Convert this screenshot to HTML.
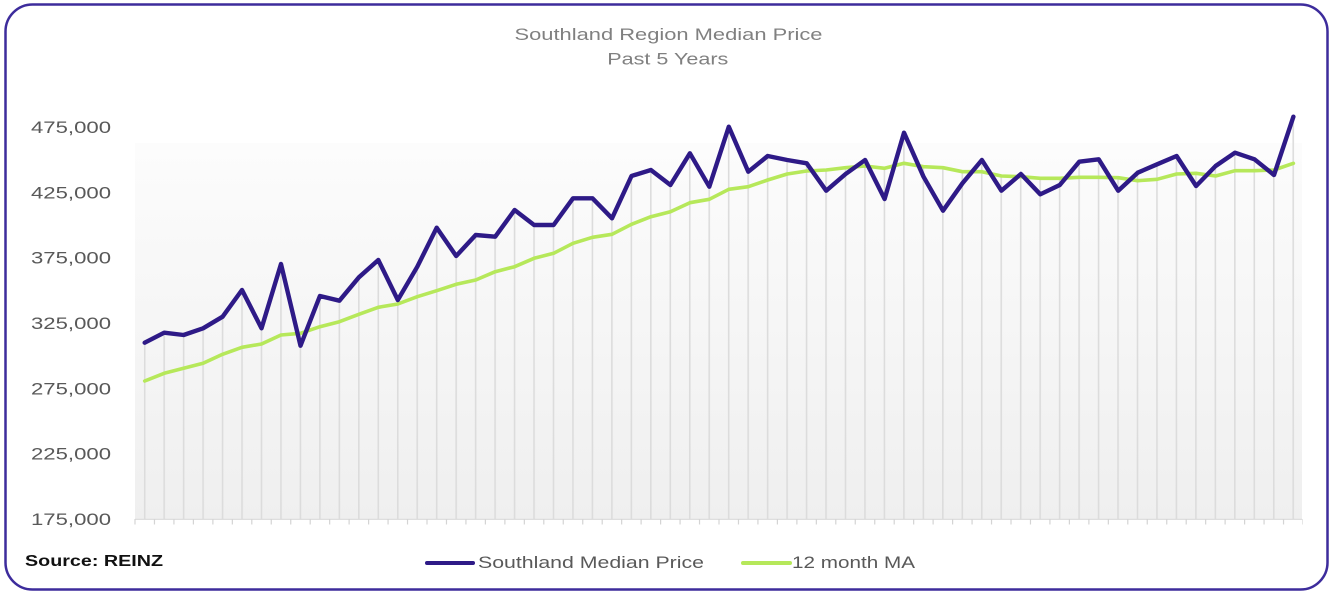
<!DOCTYPE html>
<html>
<head>
<meta charset="utf-8">
<style>
  html,body{margin:0;padding:0;background:#ffffff;}
  body{width:1336px;height:600px;overflow:hidden;}
  svg{display:block;}
  text{font-family:"Liberation Sans", Arial, sans-serif;}
</style>
</head>
<body>
<svg width="1336" height="600" viewBox="0 0 1336 600" xmlns="http://www.w3.org/2000/svg">
  <defs>
    <linearGradient id="bg" x1="0" y1="0" x2="0" y2="1">
      <stop offset="0" stop-color="#fcfcfc"/>
      <stop offset="1" stop-color="#efefef"/>
    </linearGradient>
    <pattern id="dl" x="143.9" y="0" width="19.4667" height="600" patternUnits="userSpaceOnUse">
      <rect x="0" y="0" width="1.6" height="600" fill="#dcdcdc"/>
    </pattern>
  </defs>
  <rect x="0" y="0" width="1336" height="600" fill="#ffffff"/>
  <rect x="5.5" y="4.5" width="1322" height="585" rx="27" ry="27" fill="#ffffff" stroke="#3d2c9c" stroke-width="2.5"/>

  <text x="668.5" y="40" font-size="17" fill="#808080" text-anchor="middle" textLength="308" lengthAdjust="spacingAndGlyphs">Southland Region Median Price</text>
  <text x="667.8" y="64.5" font-size="17" fill="#808080" text-anchor="middle" textLength="121" lengthAdjust="spacingAndGlyphs">Past 5 Years</text>

  <rect x="135" y="143" width="1167" height="376" fill="url(#bg)"/>

  <polygon fill="url(#dl)" points="143.8,342.7 144.7,342.7 164.2,332.7 183.6,335 203.1,328.3 222.6,316.7 242.0,290 261.5,328.3 281.0,264 300.5,333.3 319.9,296 339.4,300.7 358.9,277.3 378.3,260 397.8,300 417.3,266.7 436.7,227.7 456.2,256 475.7,235 495.2,236.7 514.6,210 534.1,225 553.6,225 573.0,198.3 592.5,198.3 612.0,218.3 631.5,176 650.9,170 670.4,185 689.9,153.3 709.3,186.7 728.8,126.7 748.3,171.7 767.7,156 787.2,160 806.7,163.3 826.2,170 845.6,167.7 865.1,160 884.6,168.3 904.0,132.7 923.5,166.7 943.0,167.7 962.4,171.7 981.9,160 1001.4,176 1020.9,174 1040.3,178.3 1059.8,178.3 1079.3,161.7 1098.7,159.3 1118.2,177.7 1137.7,172.7 1157.1,164.3 1176.6,156 1196.1,173.3 1215.6,166 1235.0,152.7 1254.5,159.3 1274.0,170 1293.4,116.7 1294.4,116.7 1294.4,519 143.8,519"/>

  <line x1="135" y1="519.3" x2="1302" y2="519.3" stroke="#d9d9d9" stroke-width="1.2"/>
  <line x1="134.4" y1="521.8" x2="1303" y2="521.8" stroke="#d4d4d4" stroke-width="5.5" stroke-dasharray="1.2 18.2667"/>

  <g font-size="17" fill="#595959" text-anchor="end">
    <text x="111" y="133" textLength="80" lengthAdjust="spacingAndGlyphs">475,000</text>
    <text x="111" y="198.3" textLength="80" lengthAdjust="spacingAndGlyphs">425,000</text>
    <text x="111" y="263.7" textLength="80" lengthAdjust="spacingAndGlyphs">375,000</text>
    <text x="111" y="329" textLength="80" lengthAdjust="spacingAndGlyphs">325,000</text>
    <text x="111" y="394.3" textLength="80" lengthAdjust="spacingAndGlyphs">275,000</text>
    <text x="111" y="459.7" textLength="80" lengthAdjust="spacingAndGlyphs">225,000</text>
    <text x="111" y="525" textLength="80" lengthAdjust="spacingAndGlyphs">175,000</text>
  </g>

  <polyline fill="none" stroke="#b6e85a" stroke-width="3.6" stroke-linejoin="round" stroke-linecap="round" points="144.7,381 164.2,373.3 183.6,368.3 203.1,363.3 222.6,354.3 242.0,347.3 261.5,344 281.0,335 300.5,333.3 319.9,326.7 339.4,321.7 358.9,314.3 378.3,307.3 397.8,304 417.3,296.7 436.7,290.7 456.2,284.3 475.7,280 495.2,271.7 514.6,266.7 534.1,258.3 553.6,253.3 573.0,243.3 592.5,237.3 612.0,234.3 631.5,224.3 650.9,216.7 670.4,211.7 689.9,202.7 709.3,199.3 728.8,189.3 748.3,186.7 767.7,180 787.2,174 806.7,171 826.2,170 845.6,167.7 865.1,166 884.6,168.3 904.0,163.3 923.5,166.7 943.0,167.7 962.4,171.7 981.9,171.7 1001.4,176 1020.9,176.7 1040.3,178.3 1059.8,178.3 1079.3,177.3 1098.7,177.3 1118.2,177.7 1137.7,180.7 1157.1,179.3 1176.6,174 1196.1,173.3 1215.6,176 1235.0,170.7 1254.5,170.7 1274.0,170 1293.4,163.3"/>

  <polyline fill="none" stroke="#2e1a87" stroke-width="4.4" stroke-linejoin="round" stroke-linecap="round" points="144.7,342.7 164.2,332.7 183.6,335 203.1,328.3 222.6,316.7 242.0,290 261.5,328.3 281.0,264 300.5,345.7 319.9,296 339.4,300.7 358.9,277.3 378.3,260 397.8,300 417.3,266.7 436.7,227.7 456.2,256 475.7,235 495.2,236.7 514.6,210 534.1,225 553.6,225 573.0,198.3 592.5,198.3 612.0,218.3 631.5,176 650.9,170 670.4,185 689.9,153.3 709.3,186.7 728.8,126.7 748.3,171.7 767.7,156 787.2,160 806.7,163.3 826.2,190.7 845.6,174 865.1,160 884.6,199 904.0,132.7 923.5,176.7 943.0,210.7 962.4,183.3 981.9,160 1001.4,190.7 1020.9,174 1040.3,194.3 1059.8,185 1079.3,161.7 1098.7,159.3 1118.2,190.7 1137.7,172.7 1157.1,164.3 1176.6,156 1196.1,186 1215.6,166 1235.0,152.7 1254.5,159.3 1274.0,175 1293.4,116.7"/>

  <text x="25" y="566" font-size="16" font-weight="bold" fill="#111111" textLength="138" lengthAdjust="spacingAndGlyphs">Source: REINZ</text>

  <line x1="427" y1="563" x2="473" y2="563" stroke="#2e1a87" stroke-width="4" stroke-linecap="round"/>
  <text x="478" y="568" font-size="17" fill="#595959" textLength="226" lengthAdjust="spacingAndGlyphs">Southland Median Price</text>
  <line x1="743" y1="563" x2="790" y2="563" stroke="#b6e85a" stroke-width="4" stroke-linecap="round"/>
  <text x="792" y="568" font-size="17" fill="#595959" textLength="123" lengthAdjust="spacingAndGlyphs">12 month MA</text>
</svg>
</body>
</html>
